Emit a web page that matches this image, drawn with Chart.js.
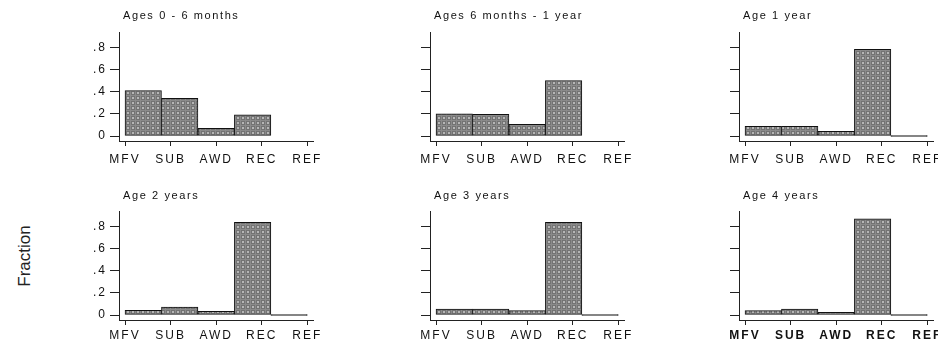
<!DOCTYPE html>
<html>
<head>
<meta charset="utf-8">
<script src="https://cdn.jsdelivr.net/npm/chart.js@4.4.1/dist/chart.umd.min.js"></script>
<style>
  html, body { margin: 0; padding: 0; background: #fff; overflow: hidden; }
  #wrap { position: relative; width: 938px; height: 342px; overflow: hidden; }
  #wrap canvas { position: absolute; }
  #ylabel {
    position: absolute; left: 25px; top: 256px;
    transform: translate(-50%, -50%) rotate(-90deg);
    font: 17px "Liberation Sans", Arial, sans-serif; color: #222; white-space: nowrap;
  }
</style>
</head>
<body>
<div id="wrap">
  <div id="ylabel">Fraction</div>
</div>
<script>
// Daten
const categories = ['MFV', 'SUB', 'AWD', 'REC', 'REF'];
const panelTitles = ['Ages 0 - 6 months', 'Ages 6 months - 1 year', 'Age 1 year',
                     'Age 2 years', 'Age 3 years', 'Age 4 years'];
const fractions0to6Months = [0.41, 0.34, 0.07, 0.19, null];
const fractions6MonthsTo1Year = [0.20, 0.195, 0.105, 0.50, null];
const fractionsAge1 = [0.087, 0.087, 0.042, 0.78, 0];
const fractionsAge2 = [0.042, 0.072, 0.033, 0.836, 0];
const fractionsAge3 = [0.054, 0.054, 0.039, 0.836, 0];
const fractionsAge4 = [0.039, 0.054, 0.024, 0.866, 0];
const xTickValues = [1, 2, 3, 4, 5];
const yTickValues = [0, 0.2, 0.4, 0.6, 0.8];
const yTickLabels = ['0', '.2', '.4', '.6', '.8'];

const panelData = [fractions0to6Months, fractions6MonthsTo1Year, fractionsAge1,
                   fractionsAge2, fractionsAge3, fractionsAge4];

// Layout
const PANEL_W = 270, PANEL_H = 170;
const panelLefts = [60, 371, 680];
const panelTops = [0, 179];
const titleOffsets = [16, 15];
const xLabelPadding = [6, 3];
const FONT = '"Liberation Sans", Arial, sans-serif';

// Histogramm-Klassen: 5 Klassen zwischen erstem und letztem Tick
const binWidth = (xTickValues[xTickValues.length - 1] - xTickValues[0]) / categories.length;

// Punktmuster für die Balken
const tile = document.createElement('canvas');
tile.width = 5; tile.height = 5;
const tctx = tile.getContext('2d');
tctx.fillStyle = '#737373';
tctx.fillRect(0, 0, 5, 5);
tctx.fillStyle = '#8a8a8a';
tctx.fillRect(0, 0, 5, 1);
tctx.fillRect(0, 0, 1, 5);
tctx.fillStyle = '#b6b6b6';
tctx.fillRect(2, 2, 2, 2);
const dotPattern = tctx.createPattern(tile, 'repeat');

const textPlugin = {
  id: 'panelText',
  beforeUpdate(chart) { chart.ctx.letterSpacing = '2px'; },
  beforeDraw(chart) { chart.ctx.letterSpacing = '2px'; },
  afterDraw(chart, args, opts) {
    const ctx = chart.ctx;
    ctx.save();
    ctx.letterSpacing = '1.6px';
    ctx.font = '11px ' + FONT;
    ctx.fillStyle = '#111';
    ctx.textBaseline = 'middle';
    ctx.textAlign = 'left';
    ctx.fillText(opts.text, chart.chartArea.left + 4, chart.chartArea.top - opts.offset);
    ctx.restore();
  }
};

const wrap = document.getElementById('wrap');

panelData.forEach((values, i) => {
  const row = Math.floor(i / 3), col = i % 3;
  const canvas = document.createElement('canvas');
  canvas.width = PANEL_W; canvas.height = PANEL_H;
  canvas.style.left = panelLefts[col] + 'px';
  canvas.style.top = panelTops[row] + 'px';
  canvas.style.width = PANEL_W + 'px';
  canvas.style.height = PANEL_H + 'px';
  wrap.appendChild(canvas);

  const points = values.map((v, k) => ({ x: xTickValues[0] + binWidth * (k + 0.5), y: v }));

  new Chart(canvas, {
    type: 'bar',
    data: {
      datasets: [{
        data: points,
        backgroundColor: (c) => (c.raw && c.raw.y === 0 ? '#000' : dotPattern),
        borderColor: '#111',
        borderWidth: 1,
        borderSkipped: false,
        minBarLength: 1,
        barPercentage: 1,
        categoryPercentage: 1
      }]
    },
    options: {
      responsive: false,
      animation: false,
      devicePixelRatio: 1,
      layout: { padding: { top: 32, right: 17, left: 0, bottom: 0 } },
      plugins: {
        legend: { display: false },
        tooltip: { enabled: false },
        panelText: { text: panelTitles[i], offset: titleOffsets[row] }
      },
      scales: {
        x: {
          type: 'linear',
          min: 0.868,
          max: 5.125,
          offset: false,
          afterFit: (s) => { s.height = 29; },
          afterBuildTicks: (s) => { s.ticks = xTickValues.map(v => ({ value: v })); },
          grid: { display: true, drawOnChartArea: false, drawTicks: true, tickLength: 5, color: '#222', offset: false },
          border: { display: true, color: '#222', width: 1 },
          ticks: {
            autoSkip: false,
            maxRotation: 0,
            padding: xLabelPadding[row],
            color: '#111',
            font: { family: FONT, size: 12, weight: i === 5 ? 'bold' : 'normal' },
            callback: (v, idx) => categories[idx]
          }
        },
        y: {
          min: -0.045,
          max: 0.937,
          afterFit: (s) => { s.width = 59; },
          afterBuildTicks: (s) => { s.ticks = yTickValues.map(v => ({ value: v })); },
          grid: { display: true, drawOnChartArea: false, drawTicks: true, tickLength: 9, color: '#222' },
          border: { display: true, color: '#222', width: 1 },
          ticks: {
            display: col === 0,
            padding: 3,
            color: '#111',
            font: { family: FONT, size: 12 },
            callback: (v, idx) => yTickLabels[idx]
          }
        }
      }
    },
    plugins: [textPlugin]
  });
});
</script>
</body>
</html>
